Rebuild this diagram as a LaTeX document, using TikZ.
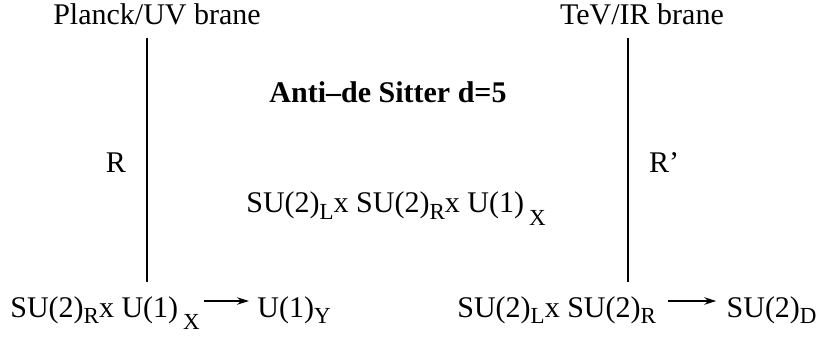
\documentclass[tikz,border=0pt]{standalone}
\usepackage{fontspec}
\setmainfont{Liberation Serif}
\usetikzlibrary{arrows.meta,positioning}
\newcommand{\lsub}[1]{\raisebox{-0.5ex}{\fontsize{11.5}{11.5}\selectfont #1}}
\newcommand{\llsub}[1]{\raisebox{-0.9ex}{\fontsize{11.5}{11.5}\selectfont #1}}
\tikzset{
  lbl/.style={inner sep=0pt, font=\fontsize{15}{18}\selectfont},
  boldlbl/.style={lbl, font=\fontsize{15}{18}\selectfont\bfseries},
  brane/.style={line width=1pt},
  arrow/.style={-{Stealth[length=2.1mm,width=1.3mm]}, line width=0.7pt}
}

\begin{document}
\begin{tikzpicture}[x=0.5pt, y=-0.5pt]
  \useasboundingbox (0,0) rectangle (821,337);
  % branes
  \node[lbl, anchor=base] (uvlbl) at (157,25) {Planck/UV brane};
  \node[lbl, anchor=base] (irlbl) at (642,25) {TeV/IR brane};
  \coordinate (uvtop) at (147,38);
  \coordinate (uvbot) at (147,282);
  \coordinate (irtop) at (628,38);
  \coordinate (irbot) at (628,282);
  \draw[brane] (uvtop) -- (uvbot);
  \draw[brane] (irtop) -- (irbot);
  \node[lbl, anchor=base] (rad) at (116,172) {R};
  \node[lbl, anchor=base] (radp) at (664,172) {R'};
  % bulk
  \node[boldlbl, anchor=base] (ads) at (388,102) {Anti--de Sitter d=5};
  \node[lbl, anchor=base] (bulk) at (396,213) {SU(2)\lsub{L}x SU(2)\lsub{R}x U(1)\,\llsub{X}};
  % breaking on the branes
  \node[lbl, anchor=base west] (uvg) at (10,317) {SU(2)\lsub{R}x U(1)\,\llsub{X}};
  \node[lbl, anchor=base west] (uvy) at (257,317) {U(1)\lsub{Y}};
  \node[lbl, anchor=base west] (irg) at (457,317) {SU(2)\lsub{L}x SU(2)\lsub{R}};
  \node[lbl, anchor=base east] (ird) at (817,317) {SU(2)\lsub{D}};
  \draw[arrow] ([xshift=2pt,yshift=8pt]uvg.base east) -- ([xshift=-4pt,yshift=8pt]uvy.base west);
  \draw[arrow] ([xshift=6pt,yshift=8pt]irg.base east) -- ([xshift=-5pt,yshift=8pt]ird.base west);
\end{tikzpicture}
\end{document}
